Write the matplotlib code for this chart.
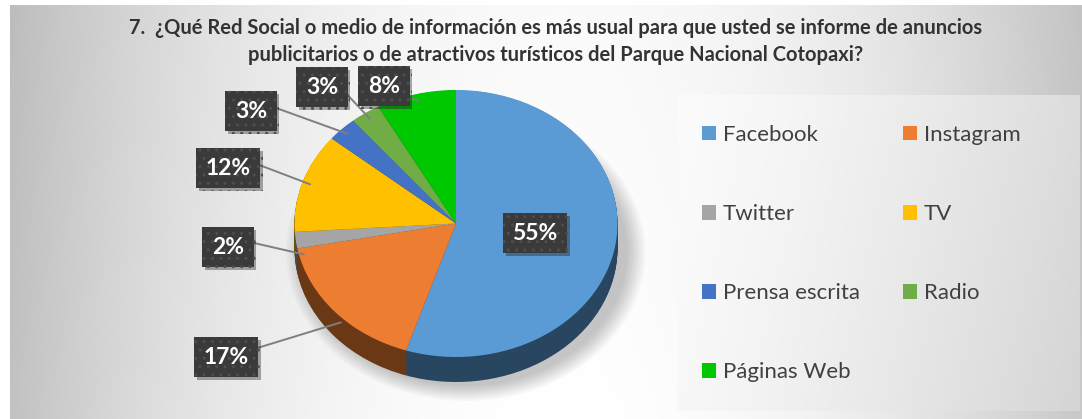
import numpy as np
import matplotlib.pyplot as plt
from matplotlib.patches import Ellipse
import matplotlib.patheffects as pe
from matplotlib.colors import to_rgb

categorias = ["Facebook", "Instagram", "Twitter", "TV", "Prensa escrita", "Radio", "Páginas Web"]
porcentajes = [55, 17, 2, 12, 3, 3, 8]
etiquetas = ["55%", "17%", "2%", "12%", "3%", "3%", "8%"]
colores = ["#5B9BD5", "#ED7D31", "#A5A5A5", "#FFC000", "#4472C4", "#70AD47", "#00C800"]
titulo_1 = "7.  ¿Qué Red Social o medio de información es más usual para que usted se informe de anuncios"
titulo_2 = "publicitarios o de atractivos turísticos del Parque Nacional Cotopaxi?"

plt.rcParams['font.family'] = ['Lato', 'DejaVu Sans']

W, H = 1082, 419
fig = plt.figure(figsize=(W / 100, H / 100), dpi=100)

# fondo degradado del grafico
bg = fig.add_axes([0, 0, 1, 1], zorder=-10)
xx, yy = np.meshgrid(np.arange(W), np.arange(H))
g = 1 - 0.24 * np.clip(np.abs(xx - 560) / 550, 0, 1) ** 2
g = g - 0.02 * (1 - yy / H)
g[(xx < 10) | (yy < 6)] = 1.0
bg.imshow(np.dstack([g, g, g]), extent=(0, W, H, 0), aspect='auto', vmin=0, vmax=1)
bg.set_xlim(0, W)
bg.set_ylim(H, 0)
bg.axis('off')

# caja de la leyenda
lx0, ly0, lx1, ly1 = 677, 95, 1080, 411
lg = fig.add_axes([lx0 / W, (H - ly1) / H, (lx1 - lx0) / W, (ly1 - ly0) / H], zorder=-5)
gx, gy = np.meshgrid(np.linspace(0, 1, 200), np.linspace(0, 1, 100))
lgv = 0.985 - 0.15 * np.clip(0.85 * gx + 0.15 * gy, 0, 1) ** 1.3
lg.imshow(np.dstack([lgv, lgv, lgv]), extent=(0, 1, 1, 0), aspect='auto', vmin=0, vmax=1)
lg.axis('off')

# pastel con efecto 3D
ax = fig.add_axes([0, 0, 1, 1])
ax.patch.set_alpha(0)
cx, cy, rx, ry = 456, 223.5, 161.5, 133.5
prof = 25 / ry

for i in range(10):
    ax.add_patch(Ellipse((0.06, -prof - 0.03), 2.0 + 0.025 * i, 2.0 + 0.025 * i,
                         color='black', alpha=0.025, lw=0, zorder=0))

oscuros = [tuple(c * 0.45 for c in to_rgb(col)) for col in colores]
for d in np.linspace(prof, 0.004, 30):
    ws, _ = ax.pie(porcentajes, colors=oscuros, startangle=90, counterclock=False,
                   center=(0, -d), wedgeprops=dict(linewidth=0))
    for w in ws:
        w.set_zorder(1)
wedges, _ = ax.pie(porcentajes, colors=colores, startangle=90, counterclock=False,
                   wedgeprops=dict(linewidth=0))
for w in wedges:
    w.set_zorder(2)

ax.set_aspect('auto')
ax.set_xlim(-cx / rx, (W - cx) / rx)
ax.set_ylim(-(H - cy) / ry, cy / ry)
ax.axis('off')

# etiquetas de datos
pos_etiquetas = [(535, 233), (226, 357), (228, 247), (228, 168), (251, 111), (322, 87), (384, 86)]
relpos = [None, (1, 0.8), (1, 0.8), (1, 0.8), (1, 0.8), (1, 0.6), (1, 0.1)]
for w, txt, (px, py), rp in zip(wedges, etiquetas, pos_etiquetas, relpos):
    th = np.deg2rad((w.theta1 + w.theta2) / 2)
    r = 0.95
    xe, ye = r * np.cos(th), r * np.sin(th)
    if ye < 0:
        ye -= prof * 0.6
    kw = {}
    if rp is not None:
        kw['arrowprops'] = dict(arrowstyle='-', color='#7f7f7f', lw=1.4, relpos=rp,
                                shrinkA=0, shrinkB=0)
    a = ax.annotate(txt, xy=(xe, ye), xycoords='data', xytext=(px, H - py),
                    textcoords='figure pixels', ha='center', va='center',
                    fontsize=16.5, fontweight='bold', color='white', zorder=5,
                    bbox=dict(boxstyle='square,pad=0.42', fc='#3a3a3a', ec='#4e4e4e',
                              lw=0, hatch='..'), **kw)
    a.get_bbox_patch().set_path_effects([pe.withSimplePatchShadow(offset=(2, -2), alpha=0.35)])

# titulo
fig.text(556 / W, 1 - 34 / H, titulo_1, ha='center', va='baseline', fontsize=14.5,
         fontweight='bold', color='#333333')
fig.text(556 / W, 1 - 61 / H, titulo_2, ha='center', va='baseline', fontsize=14.5,
         fontweight='bold', color='#333333')

# leyenda en dos columnas, orden por filas
orden = [0, 2, 4, 6, 1, 3, 5]
fig.legend([wedges[i] for i in orden], [categorias[i] for i in orden], ncol=2,
           loc='upper left', bbox_to_anchor=(702 / W, 1 - 125 / H), frameon=False,
           fontsize=16, labelcolor='#404040', handlelength=0.63, handleheight=0.63,
           handletextpad=0.3, labelspacing=2.66, columnspacing=1.95,
           borderpad=0, borderaxespad=0)

fig.savefig('out.png', dpi=100)
